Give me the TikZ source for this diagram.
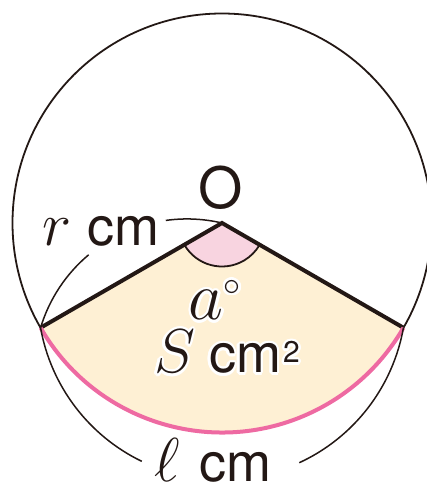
\RequirePackage{fix-cm}
\documentclass[tikz,border=0pt]{standalone}
\usepackage{fontspec}
\setsansfont{TeX Gyre Heros}
\usepackage{contour}
\contourlength{2.5pt}
\usetikzlibrary{calc}
\definecolor{cream}{HTML}{FEF0D4}
\definecolor{wedge}{HTML}{F8D4E0}
\definecolor{arcpink}{HTML}{EE6AA2}
\definecolor{ink}{HTML}{231815}
\newcommand{\mvar}[1]{{\fontsize{62}{64}\selectfont$#1$}}

\begin{document}
\begin{tikzpicture}[
    x=1pt, y=1pt,
    rim/.style={draw=ink,line width=1.8pt},
    side/.style={draw=ink,line width=4pt},
    dim/.style={draw=ink,line width=1.5pt},
    lbl/.style={inner sep=0pt,text=ink,font=\sffamily\fontsize{54}{60}\selectfont}
  ]
  \useasboundingbox (0,0) rectangle (427,490);
  \clip (0,0) rectangle (427,490);
  \coordinate (O) at (222,267);
  \coordinate (A) at ($(O)+(210:209.5)$);
  \coordinate (B) at ($(O)+(330:209.5)$);
  \coordinate (W) at ($(O)+(210:43.5)$);
  % sector and angle
  \fill[cream] (O) -- (A) arc[start angle=210,end angle=330,radius=209.5] -- cycle;
  \filldraw[fill=wedge,rim] (O) -- (W) arc[start angle=210,end angle=330,radius=43.5] -- cycle;
  \draw[rim] (O) circle[radius=209.5];
  \draw[side] (A) -- (O) -- (B);
  \draw[arcpink,line width=4pt] (A) arc[start angle=210,end angle=330,radius=209.5];
  % r and l marks
  \draw[dim] (O) arc[start angle=76.8,end angle=98,radius=153];
  \draw[dim] (A) arc[start angle=163.2,end angle=130,radius=153];
  \draw[dim] (A) arc[start angle=190.1,end angle=244.2,radius=184.3];
  \draw[dim] (B) arc[start angle=349.9,end angle=294.8,radius=184.3];
  % labels
  \node[lbl,font=\sffamily\fontsize{57}{60}\selectfont] (o) at (221,302) {O};
  \node[lbl,anchor=base] (r) at (101,244) {\mvar{r}\hspace{16pt}cm};
  \node[lbl,anchor=base] (a) at (215,170) {\contour{white}{{\fontsize{68}{70}\selectfont$a^{\scriptscriptstyle\circ}$}}};
  \node[lbl,anchor=base] (s) at (227,117) {\contour{white}{\mvar{S}\hspace{14pt}cm\hspace{2pt}\raisebox{10pt}{\fontsize{30}{30}\selectfont 2}}};
  \node[lbl,anchor=base] (l) at (213,9) {\mvar{\ell}\hspace{20pt}cm};
\end{tikzpicture}
\end{document}
